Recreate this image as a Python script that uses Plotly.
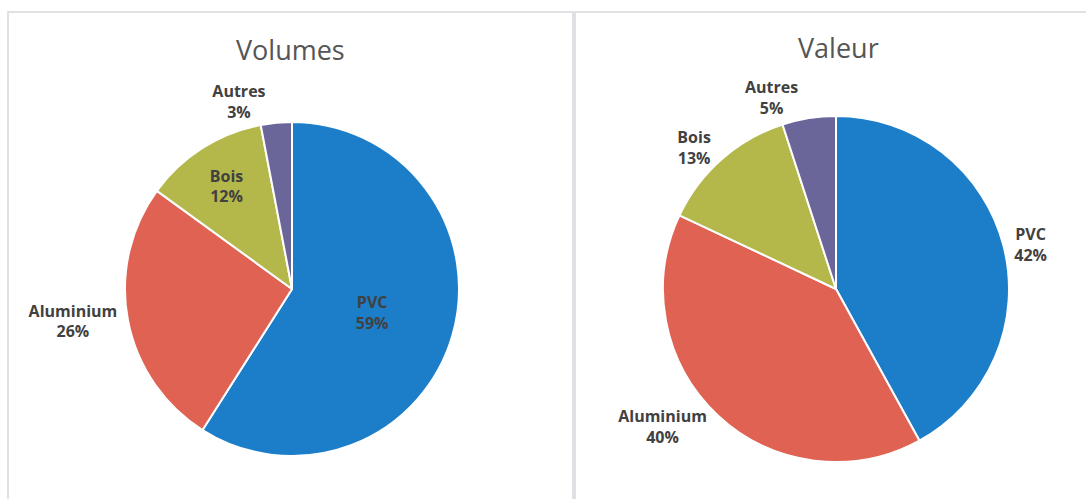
import plotly.graph_objects as go

# Market share of window frame materials
categories = ["PVC", "Aluminium", "Bois", "Autres"]
volumes_pct = [59, 26, 12, 3]
valeur_pct = [42, 40, 13, 5]

colors = ["#1c7dc8", "#df6253", "#b4b84a", "#6b6699"]
label_font = dict(family="Open Sans, Lato, sans-serif", size=16, color="#414141")

W, H = 1086, 499

fig = go.Figure()

fig.add_trace(go.Pie(
    labels=categories,
    values=volumes_pct,
    sort=False,
    direction="clockwise",
    rotation=0,
    marker=dict(colors=colors, line=dict(color="white", width=2)),
    texttemplate="<b>%{label}<br>%{value}%</b>",
    textposition=["inside", "outside", "inside", "outside"],
    insidetextorientation="horizontal",
    textfont=label_font,
    insidetextfont=label_font,
    outsidetextfont=label_font,
    hoverinfo="label+value",
    showlegend=False,
    domain=dict(x=[125 / W, 459 / W], y=[1 - 456 / H, 1 - 122 / H]),
))

fig.add_trace(go.Pie(
    labels=categories,
    values=valeur_pct,
    sort=False,
    direction="clockwise",
    rotation=0,
    marker=dict(colors=colors, line=dict(color="white", width=2)),
    texttemplate="<b>%{label}<br>%{value}%</b>",
    textposition="outside",
    textfont=label_font,
    outsidetextfont=label_font,
    hoverinfo="label+value",
    showlegend=False,
    domain=dict(x=[663 / W, 1009 / W], y=[1 - 462 / H, 1 - 116 / H]),
))

title_font = dict(family="Open Sans, Lato, sans-serif", size=27, color="#555555")
for text, xc, yc in [("Volumes", 290, 50), ("Valeur", 838, 48)]:
    fig.add_annotation(text=text, x=xc / W, y=1 - yc / H, xref="paper", yref="paper",
                       xanchor="center", yanchor="middle",
                       showarrow=False, font=title_font)

# Panel frames
for x0, x1 in [(8, 573), (575, 1090)]:
    fig.add_shape(type="rect", xref="paper", yref="paper",
                  x0=x0 / W, x1=x1 / W, y0=-0.05, y1=1 - 12 / H,
                  line=dict(color="#d6d8dc", width=1.5), fillcolor="rgba(0,0,0,0)")

fig.update_layout(
    width=W, height=H,
    margin=dict(l=0, r=0, t=0, b=0),
    paper_bgcolor="white",
    plot_bgcolor="white",
)

fig.write_html("out.html")
